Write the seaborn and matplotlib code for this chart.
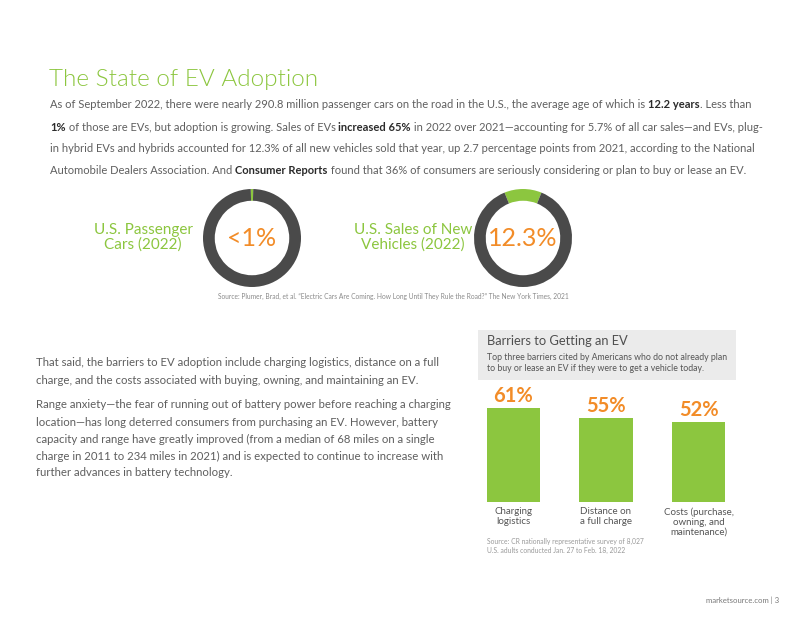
import matplotlib
matplotlib.use("Agg")
import matplotlib.pyplot as plt
import seaborn as sns
import pandas as pd
from matplotlib.patches import Rectangle

# ---------------- data ----------------
title = "The State of EV Adoption"
intro_lines = [
    [("As of September 2022, there were nearly 290.8 million passenger cars on the road in the U.S., the average age of which is ", False),
     ("12.2 years", True), (". Less than", False)],
    [("1%", True), (" of those are EVs, but adoption is growing. Sales of EVs ", False), ("increased 65%", True),
     (" in 2022 over 2021\u2014accounting for 5.7% of all car sales\u2014and EVs, plug-", False)],
    [("in hybrid EVs and hybrids accounted for 12.3% of all new vehicles sold that year, up 2.7 percentage points from 2021, according to the National", False)],
    [("Automobile Dealers Association. And ", False), ("Consumer Reports", True),
     (" found that 36% of consumers are seriously considering or plan to buy or lease an EV.", False)],
]
donut_labels = ["U.S. Passenger\nCars (2022)", "U.S. Sales of New\nVehicles (2022)"]
donut_values = [0.8, 12.3]
donut_texts = ["<1%", "12.3%"]
donut_source = ("Source: Plumer, Brad, et al. \u201cElectric Cars Are Coming. How Long Until They Rule the Road?\u201d "
                "The New York Times, 2021")
left_paragraphs = [
    ["That said, the barriers to EV adoption include charging logistics, distance on a full",
     "charge, and the costs associated with buying, owning, and maintaining an EV."],
    ["Range anxiety\u2014the fear of running out of battery power before reaching a charging",
     "location\u2014has long deterred consumers from purchasing an EV. However, battery",
     "capacity and range have greatly improved (from a median of 68 miles on a single",
     "charge in 2011 to 234 miles in 2021) and is expected to continue to increase with",
     "further advances in battery technology."],
]
bar_title = "Barriers to Getting an EV"
bar_subtitle = ("Top three barriers cited by Americans who do not already plan\n"
                "to buy or lease an EV if they were to get a vehicle today.")
barriers = ["Charging\nlogistics", "Distance on\na full charge", "Costs (purchase,\nowning, and\nmaintenance)"]
barrier_pct = [61, 55, 52]
bar_source = "Source: CR nationally representative survey of 8,027\nU.S. adults conducted Jan. 27 to Feb. 18, 2022"
footer = "marketsource.com | 3"

# ---------------- style ----------------
sns.set_theme(style="white")
plt.rcParams['font.family'] = ['Lato', 'DejaVu Sans']

GREEN = "#8cc63f"
ORANGE = "#f28c28"
DARK = "#4a4a4a"
TEXT = "#5f5f5f"
STRONG = "#2b2b2b"

W, H = 800, 618
fig = plt.figure(figsize=(8, 6.18), dpi=100)
fig.patch.set_facecolor("white")


def fx(x):
    return x / W


def fy(y):
    return 1 - y / H


def px_axes(x0, y0, x1, y1):
    return fig.add_axes([fx(x0), fy(y1), (x1 - x0) / W, (y1 - y0) / H])


# Title
fig.text(fx(49), fy(80), title, color=GREEN, fontsize=17.5, fontweight=300, va="center", ha="left")

# Intro paragraph with mixed runs
renderer = fig.canvas.get_renderer()
intro_y = [105, 127, 149, 171]
for line, yy in zip(intro_lines, intro_y):
    x = fx(50)
    for txt, bold in line:
        t = fig.text(x, fy(yy), txt, fontsize=8.0, color=STRONG if bold else TEXT,
                     fontweight="bold" if bold else "normal", va="center", ha="left")
        bb = t.get_window_extent(renderer=renderer)
        x += bb.width / fig.bbox.width

# Donuts
centers = [(252, 238), (523, 238)]
label_x = [143, 413]
R = 49
for (cx, cy), lab, lx, val, vt in zip(centers, donut_labels, label_x, donut_values, donut_texts):
    ax = px_axes(cx - R, cy - R, cx + R, cy + R)
    ang = val / 100 * 360
    ax.pie([val, 100 - val], colors=[GREEN, DARK], startangle=90 + ang / 2, counterclock=False,
           wedgeprops=dict(width=0.24, linewidth=0), radius=1)
    ax.set_xlim(-1, 1)
    ax.set_ylim(-1, 1)
    ax.set_aspect("equal")
    ax.axis("off")
    ax.text(0, 0, vt, color=ORANGE, fontsize=18, ha="center", va="center")
    fig.text(fx(lx), fy(237), lab, color=GREEN, fontsize=11, ha="center", va="center", linespacing=1.05)

fig.text(fx(218), fy(296), donut_source, fontsize=4.8, color="#8a8a8a", ha="left", va="center")

# Left paragraphs
left_y = [[362, 380], [404, 422, 439, 456, 473]]
for para, ys in zip(left_paragraphs, left_y):
    for line, yy in zip(para, ys):
        fig.text(fx(36), fy(yy), line, fontsize=8.2, color=TEXT, ha="left", va="center")

# Gray header box
fig.patches.append(Rectangle((fx(478), fy(380)), (736 - 478) / W, (380 - 330) / H,
                             transform=fig.transFigure, facecolor="#ebebeb", edgecolor="none", zorder=0))
fig.text(fx(487), fy(341), bar_title, fontsize=9.3, color="#4f4f4f", ha="left", va="center")
fig.text(fx(487), fy(363), bar_subtitle, fontsize=6.3, color="#555555", ha="left", va="center", linespacing=1.3)

# Bar chart
df = pd.DataFrame({"barrier": barriers, "pct": barrier_pct})
step = 92.5
left = 513.5 - step / 2
right = left + 3 * step
bottom_px, top_px = 502, 380
bax = px_axes(left, top_px, right, bottom_px)
sns.barplot(data=df, x="barrier", y="pct", ax=bax, color=GREEN, saturation=1, width=0.573, linewidth=0)
bax.set_xlim(-0.5, 2.5)
bax.set_ylim(0, (bottom_px - top_px) / 1.535)
bax.axis("off")
for i, v in enumerate(barrier_pct):
    bax.text(i, v + 1.3, f"{v}%", color=ORANGE, fontsize=14.5, fontweight="bold", ha="center", va="bottom")
    bax.text(i, -3.5, barriers[i], color="#555555", fontsize=7.0, ha="center", va="top", linespacing=1.1)

fig.text(fx(487), fy(546), bar_source, fontsize=4.85, color="#9a9a9a", ha="left", va="center", linespacing=1.4)

fig.text(fx(779), fy(600), footer, fontsize=5.6, color="#777777", ha="right", va="center")

fig.savefig("out.png", dpi=100, facecolor="white")
